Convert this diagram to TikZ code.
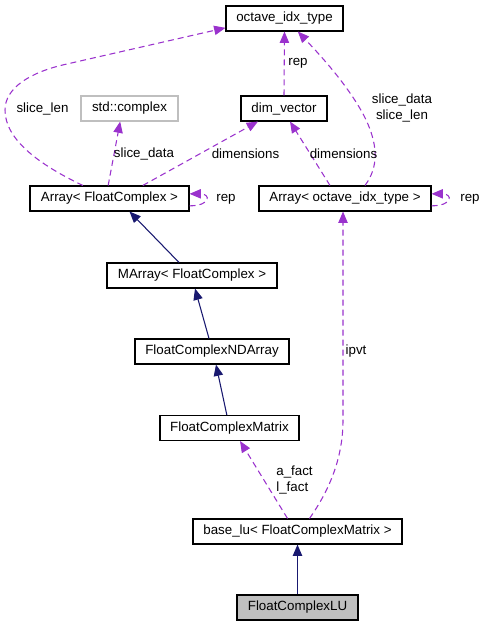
\documentclass[tikz,border=0pt]{standalone}
\usepackage{fontspec}
\setmainfont{Liberation Sans}
\usetikzlibrary{arrows.meta}
\definecolor{depc}{HTML}{9A32CD}
\definecolor{inhc}{HTML}{191970}
\definecolor{grayc}{HTML}{BFBFBF}
\begin{document}
\begin{tikzpicture}[x=0.75pt,y=-0.75pt,
  box/.style={draw=black, line width=0.8pt, fill=white, inner sep=0pt, minimum height=18.75pt, font=\fontsize{10}{12}\selectfont},
  inherit/.style={draw=inhc, line width=0.8pt, -{Triangle[length=8.5pt,width=7pt]}},
  depend/.style={draw=depc, line width=0.8pt, dash pattern=on 4.5pt off 3pt, -{Triangle[length=8.5pt,width=7pt]}},
  lbl/.style={font=\fontsize{10}{11.5}\selectfont, inner sep=0pt}]
\useasboundingbox (0,0) rectangle (484,627);

\node[box, minimum width=87.75pt] (oct) at (284.5,18.5) {octave\_idx\_type};
\node[box, draw=grayc, minimum width=72.75pt] (sc) at (129.5,108.5) {std::complex};
\node[box, minimum width=64.5pt] (dv) at (284,108.5) {dim\_vector};
\node[box, minimum width=119.25pt] (afc) at (109.5,198.5) {Array< FloatComplex >};
\node[box, minimum width=129pt] (aoi) at (345,198.5) {Array< octave\_idx\_type >};
\node[box, minimum width=127.5pt] (ma) at (192,275.5) {MArray< FloatComplex >};
\node[box, minimum width=115.5pt] (nd) at (212,351.5) {FloatComplexNDArray};
\node[box, minimum width=104.25pt] (fcm) at (229.5,428) {FloatComplexMatrix};
\node[box, minimum width=156.75pt] (blu) at (297.5,531.5) {base\_lu< FloatComplexMatrix >};
\node[box, fill=grayc, minimum width=90.75pt] (lu) at (297.5,607.5) {FloatComplexLU};

% inheritance
\draw[inherit] (lu.north) -- (blu.south);
\draw[inherit] ([xshift=-2pt]fcm.north) -- ([xshift=3pt]nd.south);
\draw[inherit] ([xshift=-2.25pt]nd.north) -- ([xshift=2.25pt]ma.south);
\draw[inherit] ([xshift=-9.75pt]ma.north) -- ([xshift=15pt]afc.south);

% dependencies
\draw[depend] ([xshift=-7.5pt]blu.north) -- ([xshift=7.9pt]fcm.south);
\draw[depend] ([xshift=9pt]blu.north) .. controls (328,492) and (343,460) .. (343,420) -- ([xshift=-1.5pt]aoi.south);
\draw[depend] ([xshift=-1pt]afc.north) -- ([xshift=-7pt]sc.south);
\draw[depend] ([xshift=25pt]afc.north) -- ([xshift=-19.5pt]dv.south);
\draw[depend] ([xshift=-20pt]afc.north) .. controls (40,165) and (5,140) .. (5,110)
   .. controls (5,88) and (30,72) .. (67,64) -- ([yshift=-7pt]oct.west);
\draw[depend] (dv.north) -- (oct.south);
\draw[depend] ([xshift=-11.25pt]aoi.north) -- ([xshift=4.5pt]dv.south);
\draw[depend] ([xshift=15pt]aoi.north) .. controls (378,168) and (380,145) .. (362,112)
   .. controls (345,82) and (320,55) .. ([xshift=10pt]oct.south);
\draw[depend] ([yshift=-5.5pt]afc.east) .. controls +(16pt,0) and +(16pt,0) .. ([yshift=3.5pt]afc.east);
\draw[depend] ([yshift=-5.5pt]aoi.east) .. controls +(16pt,0) and +(16pt,0) .. ([yshift=3.5pt]aoi.east);

% labels
\node[lbl] (l1) at (226,199) {rep};
\node[lbl] (l2) at (470,199) {rep};
\node[lbl] (l3) at (42.5,109) {slice\_len};
\node[lbl] (l4) at (144,154) {slice\_data};
\node[lbl] (l5) at (245.5,154) {dimensions};
\node[lbl] (l6) at (298,63) {rep};
\node[lbl] (l7) at (343.5,154) {dimensions};
\node[lbl, align=center] (l8) at (402,108) {slice\_data\\slice\_len};
\node[lbl] (l9) at (356,351) {ipvt};
\node[lbl, align=left] (l10) at (294.5,480) {a\_fact\\l\_fact};
\end{tikzpicture}
\end{document}
